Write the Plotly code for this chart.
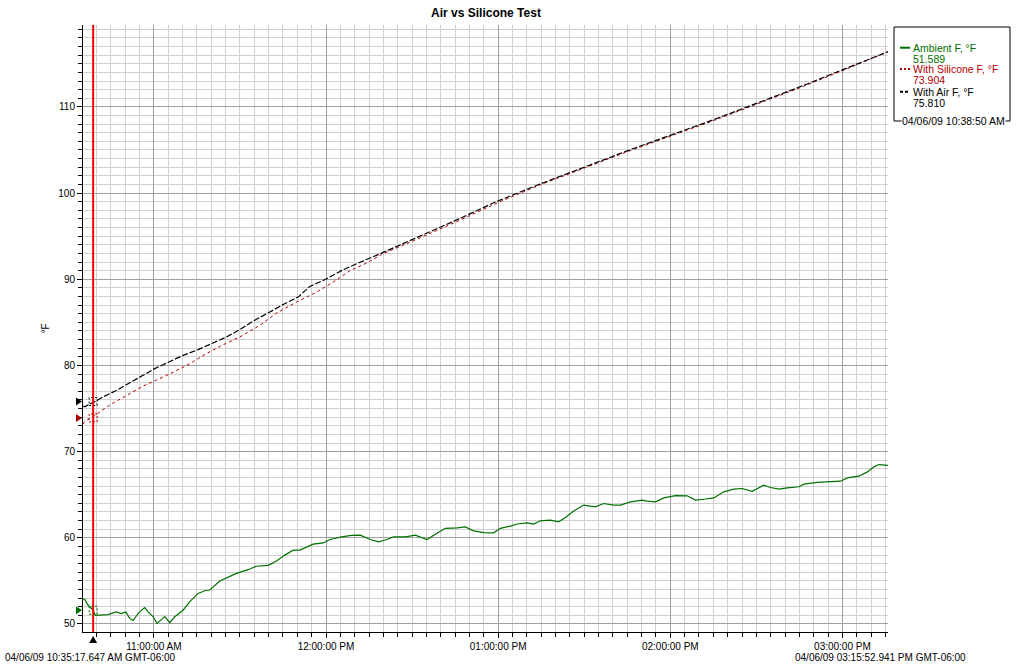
import plotly.graph_objects as go

DAY = "2009-04-06 "
X_START = DAY + "10:35:17.647"
X_END = DAY + "15:15:52.941"
CURSOR = DAY + "10:38:50"

ambient_t = ["10:35:18", "10:35:53", "10:37:02", "10:38:47", "10:39:35", "10:44:01", "10:46:55", "10:48:39",
             "10:50:11", "10:51:35", "10:52:44", "10:53:53", "10:54:49", "10:56:49", "10:57:58", "10:59:43",
             "11:01:07", "11:03:48", "11:05:32", "11:07:17", "11:10:11", "11:12:31", "11:15:24", "11:17:45",
             "11:19:29", "11:22:59", "11:26:28", "11:28:46", "11:32:51", "11:35:45", "11:39:50", "11:42:43",
             "11:45:39", "11:48:33", "11:50:53", "11:55:32", "11:59:01", "12:01:21", "12:05:24", "12:08:53",
             "12:11:55", "12:15:25", "12:18:18", "12:21:14", "12:23:32", "12:27:37", "12:31:07", "12:32:51",
             "12:35:11", "12:38:05", "12:41:34", "12:45:39", "12:48:33", "12:51:26", "12:54:56", "12:58:25",
             "13:00:46", "13:04:15", "13:06:35", "13:10:04", "13:12:22", "13:14:43", "13:18:12", "13:21:05",
             "13:23:26", "13:26:20", "13:29:49", "13:33:54", "13:36:47", "13:40:17", "13:42:37", "13:46:07",
             "13:50:11", "13:51:56", "13:54:50", "13:57:43", "14:01:48", "14:05:53", "14:08:47", "14:12:16",
             "14:15:10", "14:18:39", "14:22:08", "14:25:04", "14:28:34", "14:32:37", "14:34:56", "14:37:50",
             "14:40:46", "14:44:49", "14:46:34", "14:51:14", "14:55:52", "14:59:22", "15:01:42", "15:05:45",
             "15:08:41", "15:10:59", "15:12:43", "15:14:28", "15:15:52"]
ambient_v = [52.9, 52.86, 52.2, 51.6, 51.0, 51.08, 51.4, 51.2,
             51.4, 50.65, 50.4, 51.0, 51.35, 51.9, 51.4, 50.85,
             50.07, 50.85, 50.15, 50.85, 51.6, 52.6, 53.55, 53.86,
             53.94, 54.98, 55.56, 55.87, 56.3, 56.7, 56.8, 57.3,
             57.99, 58.57, 58.57, 59.27, 59.4, 59.8, 60.1, 60.28,
             60.3, 59.8, 59.54, 59.8, 60.1, 60.1, 60.3, 60.05,
             59.8, 60.4, 61.1, 61.16, 61.27, 60.8, 60.6, 60.58,
             61.1, 61.36, 61.6, 61.74, 61.6, 61.97, 62.05, 61.86,
             62.36, 63.1, 63.8, 63.6, 63.98, 63.8, 63.8, 64.17,
             64.37, 64.25, 64.17, 64.63, 64.9, 64.87, 64.37, 64.5,
             64.63, 65.33, 65.64, 65.72, 65.4, 66.1, 65.84, 65.64,
             65.8, 65.92, 66.22, 66.42, 66.49, 66.57, 66.95, 67.15,
             67.65, 68.23, 68.5, 68.42, 68.4]

silicone_t = ["10:35:18", "10:35:53", "10:39:22", "10:44:36", "10:50:24", "10:56:13", "11:00:52", "11:06:41",
              "11:12:31", "11:18:18", "11:24:08", "11:29:57", "11:36:56", "11:42:43", "11:49:42", "11:56:41",
              "12:02:30", "12:08:20", "12:14:07", "12:19:21", "12:30:00", "12:45:00", "13:00:00", "13:15:00",
              "13:30:00", "13:45:00", "14:00:00", "14:15:00", "14:30:00", "14:45:00", "15:00:00", "15:15:52"]
silicone_v = [73.2, 73.5, 74.2, 75.4, 76.5, 77.6, 78.3, 79.2,
              80.2, 81.37, 82.4, 83.3, 84.65, 86.07, 87.35, 88.5,
              89.67, 91.0, 91.87, 92.87, 94.4, 96.6, 98.9, 101.0,
              102.9, 104.8, 106.6, 108.4, 110.3, 112.2, 114.2, 116.4]

air_t = ["10:35:18", "10:35:53", "10:39:22", "10:42:16", "10:46:55", "10:50:59", "10:56:13", "11:00:18",
         "11:05:32", "11:10:11", "11:15:24", "11:20:03", "11:25:17", "11:29:57", "11:34:36", "11:40:25",
         "11:45:04", "11:50:17", "11:54:22", "11:59:01", "12:05:59", "12:10:38", "12:14:07", "12:19:21",
         "12:30:00", "12:45:00", "13:00:00", "13:15:00", "13:30:00", "13:45:00", "14:00:00", "14:15:00",
         "14:30:00", "14:45:00", "15:00:00", "15:15:52"]
air_v = [75.3, 75.2, 75.8, 76.34, 77.1, 77.9, 78.85, 79.63,
         80.47, 81.17, 81.83, 82.5, 83.3, 84.15, 85.15, 86.2,
         87.08, 87.93, 89.17, 89.86, 91.1, 91.8, 92.26, 93.03,
         94.6, 96.8, 99.1, 101.1, 103.0, 104.9, 106.7, 108.5,
         110.4, 112.3, 114.3, 116.4]

cursor_vals = [51.589, 73.904, 75.810]
series_names = ["Ambient F, °F", "With Silicone F, °F", "With Air F, °F"]
series_colors = ["#007000", "#b00000", "#000000"]
cursor_label = "04/06/09 10:38:50 AM"
start_label = "04/06/09 10:35:17.647 AM GMT-06:00"
end_label = "04/06/09 03:15:52.941 PM GMT-06:00"

W, H = 1026, 670
L, R, T, B = 83, 888, 25, 632
FONT = "Liberation Sans"


def px(xp):
    return (xp - L) / (R - L)


def py(yp):
    return (B - yp) / (B - T)


def full(ts):
    return [DAY + t for t in ts]


fig = go.Figure()
fig.add_trace(go.Scatter(x=full(ambient_t), y=ambient_v, mode="lines",
                         line=dict(color=series_colors[0], width=1.2), showlegend=False))
fig.add_trace(go.Scatter(x=full(silicone_t), y=silicone_v, mode="lines",
                         line=dict(color=series_colors[1], width=1, dash="3px,3px"), showlegend=False))
fig.add_trace(go.Scatter(x=full(air_t), y=air_v, mode="lines",
                         line=dict(color=series_colors[2], width=1.2, dash="6px,2px"), showlegend=False))

# left-edge value markers (triangles pointing at the axis)
for v, c in zip(cursor_vals, series_colors):
    fig.add_shape(type="path", xref="paper", yref="y", xsizemode="pixel", ysizemode="pixel",
                  xanchor=0, yanchor=v, path="M -7,-4 L -1,0 L -7,4 Z",
                  fillcolor=c, line=dict(color=c, width=0))
# cursor marker below axis
fig.add_shape(type="path", xref="x", yref="paper", xsizemode="pixel", ysizemode="pixel",
              xanchor=CURSOR, yanchor=0, path="M 0,-4 L 4,-11 L -4,-11 Z",
              fillcolor="black", line=dict(color="black", width=0))

# cursor line
fig.add_shape(type="line", xref="x", yref="paper", x0=CURSOR, x1=CURSOR, y0=0, y1=1,
              line=dict(color="#ff0000", width=2))
# dashed boxes around cursor points
for v, c in zip(cursor_vals, series_colors):
    fig.add_shape(type="rect", xref="x", yref="y", xsizemode="pixel", ysizemode="pixel",
                  xanchor=CURSOR, yanchor=v, x0=-4, x1=4, y0=-4, y1=4,
                  line=dict(color=c, width=1, dash="2px,2px"))

# legend box
fig.add_shape(type="rect", xref="paper", yref="paper", x0=px(894), x1=px(1010), y0=py(121), y1=py(27),
              line=dict(color="black", width=1), fillcolor="white")
dashes = ["solid", "2px,2px", "3px,2px"]
widths = [2, 2, 2]
rows = [47.7, 69, 91.7]
for name, val, c, d, wd, yy in zip(series_names, cursor_vals, series_colors, dashes, widths, rows):
    fig.add_shape(type="line", xref="paper", yref="paper", x0=px(900), x1=px(910), y0=py(yy), y1=py(yy),
                  line=dict(color=c, width=wd, dash=d))
    fig.add_annotation(x=px(911), y=py(yy), xref="paper", yref="paper", text=name, showarrow=False,
                       xanchor="left", yanchor="middle", font=dict(family=FONT, size=10.5, color=c))
    fig.add_annotation(x=px(911), y=py(yy + 11), xref="paper", yref="paper", text=f"{val:.3f}",
                       showarrow=False, xanchor="left", yanchor="middle",
                       font=dict(family=FONT, size=10.5, color=c))
fig.add_annotation(x=px(953), y=py(121), xref="paper", yref="paper", text=cursor_label, showarrow=False,
                   xanchor="center", yanchor="middle", bgcolor="white", borderpad=0,
                   font=dict(family=FONT, size=10.5, color="black"))

fig.add_annotation(x=px(3), y=py(657), xref="paper", yref="paper", text=start_label, showarrow=False,
                   xanchor="left", yanchor="middle", font=dict(family=FONT, size=10, color="black"))
fig.add_annotation(x=px(968), y=py(657), xref="paper", yref="paper", text=end_label, showarrow=False,
                   xanchor="right", yanchor="middle", font=dict(family=FONT, size=10, color="black"))

fig.update_layout(
    width=W, height=H,
    margin=dict(l=L, r=W - R, t=T, b=H - B),
    paper_bgcolor="white", plot_bgcolor="white",
    font=dict(family=FONT, size=10, color="black"),
    title=dict(text="<b>Air vs Silicone Test</b>", xref="paper", x=px(486), xanchor="center",
               yref="container", y=1 - 13 / H, yanchor="middle",
               font=dict(family=FONT, size=12, color="black")),
    xaxis=dict(type="date", range=[X_START, X_END], tickformat="%I:%M:%S %p",
               tick0=DAY + "11:00:00", dtick=3600000, showgrid=True, gridcolor="#a0a0a0", gridwidth=1,
               ticks="outside", ticklen=5, tickcolor="black", showline=True, linecolor="black",
               linewidth=1, zeroline=False,
               minor=dict(dtick=300000, tick0=DAY + "11:00:00", showgrid=True, gridcolor="#d0d0d0",
                          ticks="outside", ticklen=4, tickcolor="black"),
               tickfont=dict(family=FONT, size=10)),
    yaxis=dict(range=[49.07, 119.5], tick0=50, dtick=10, showgrid=True, gridcolor="#a0a0a0",
               ticks="outside", ticklen=5, tickcolor="black", showline=True, linecolor="black",
               linewidth=1, zeroline=False,
               minor=dict(dtick=1, tick0=50, showgrid=True, gridcolor="#d0d0d0",
                          ticks="outside", ticklen=4, tickcolor="black"),
               title=dict(text="°F", standoff=6, font=dict(family=FONT, size=10)),
               tickfont=dict(family=FONT, size=10)),
)

fig.write_html("out.html", config={"displayModeBar": False},
               post_script="document.body.style.margin='0';")
